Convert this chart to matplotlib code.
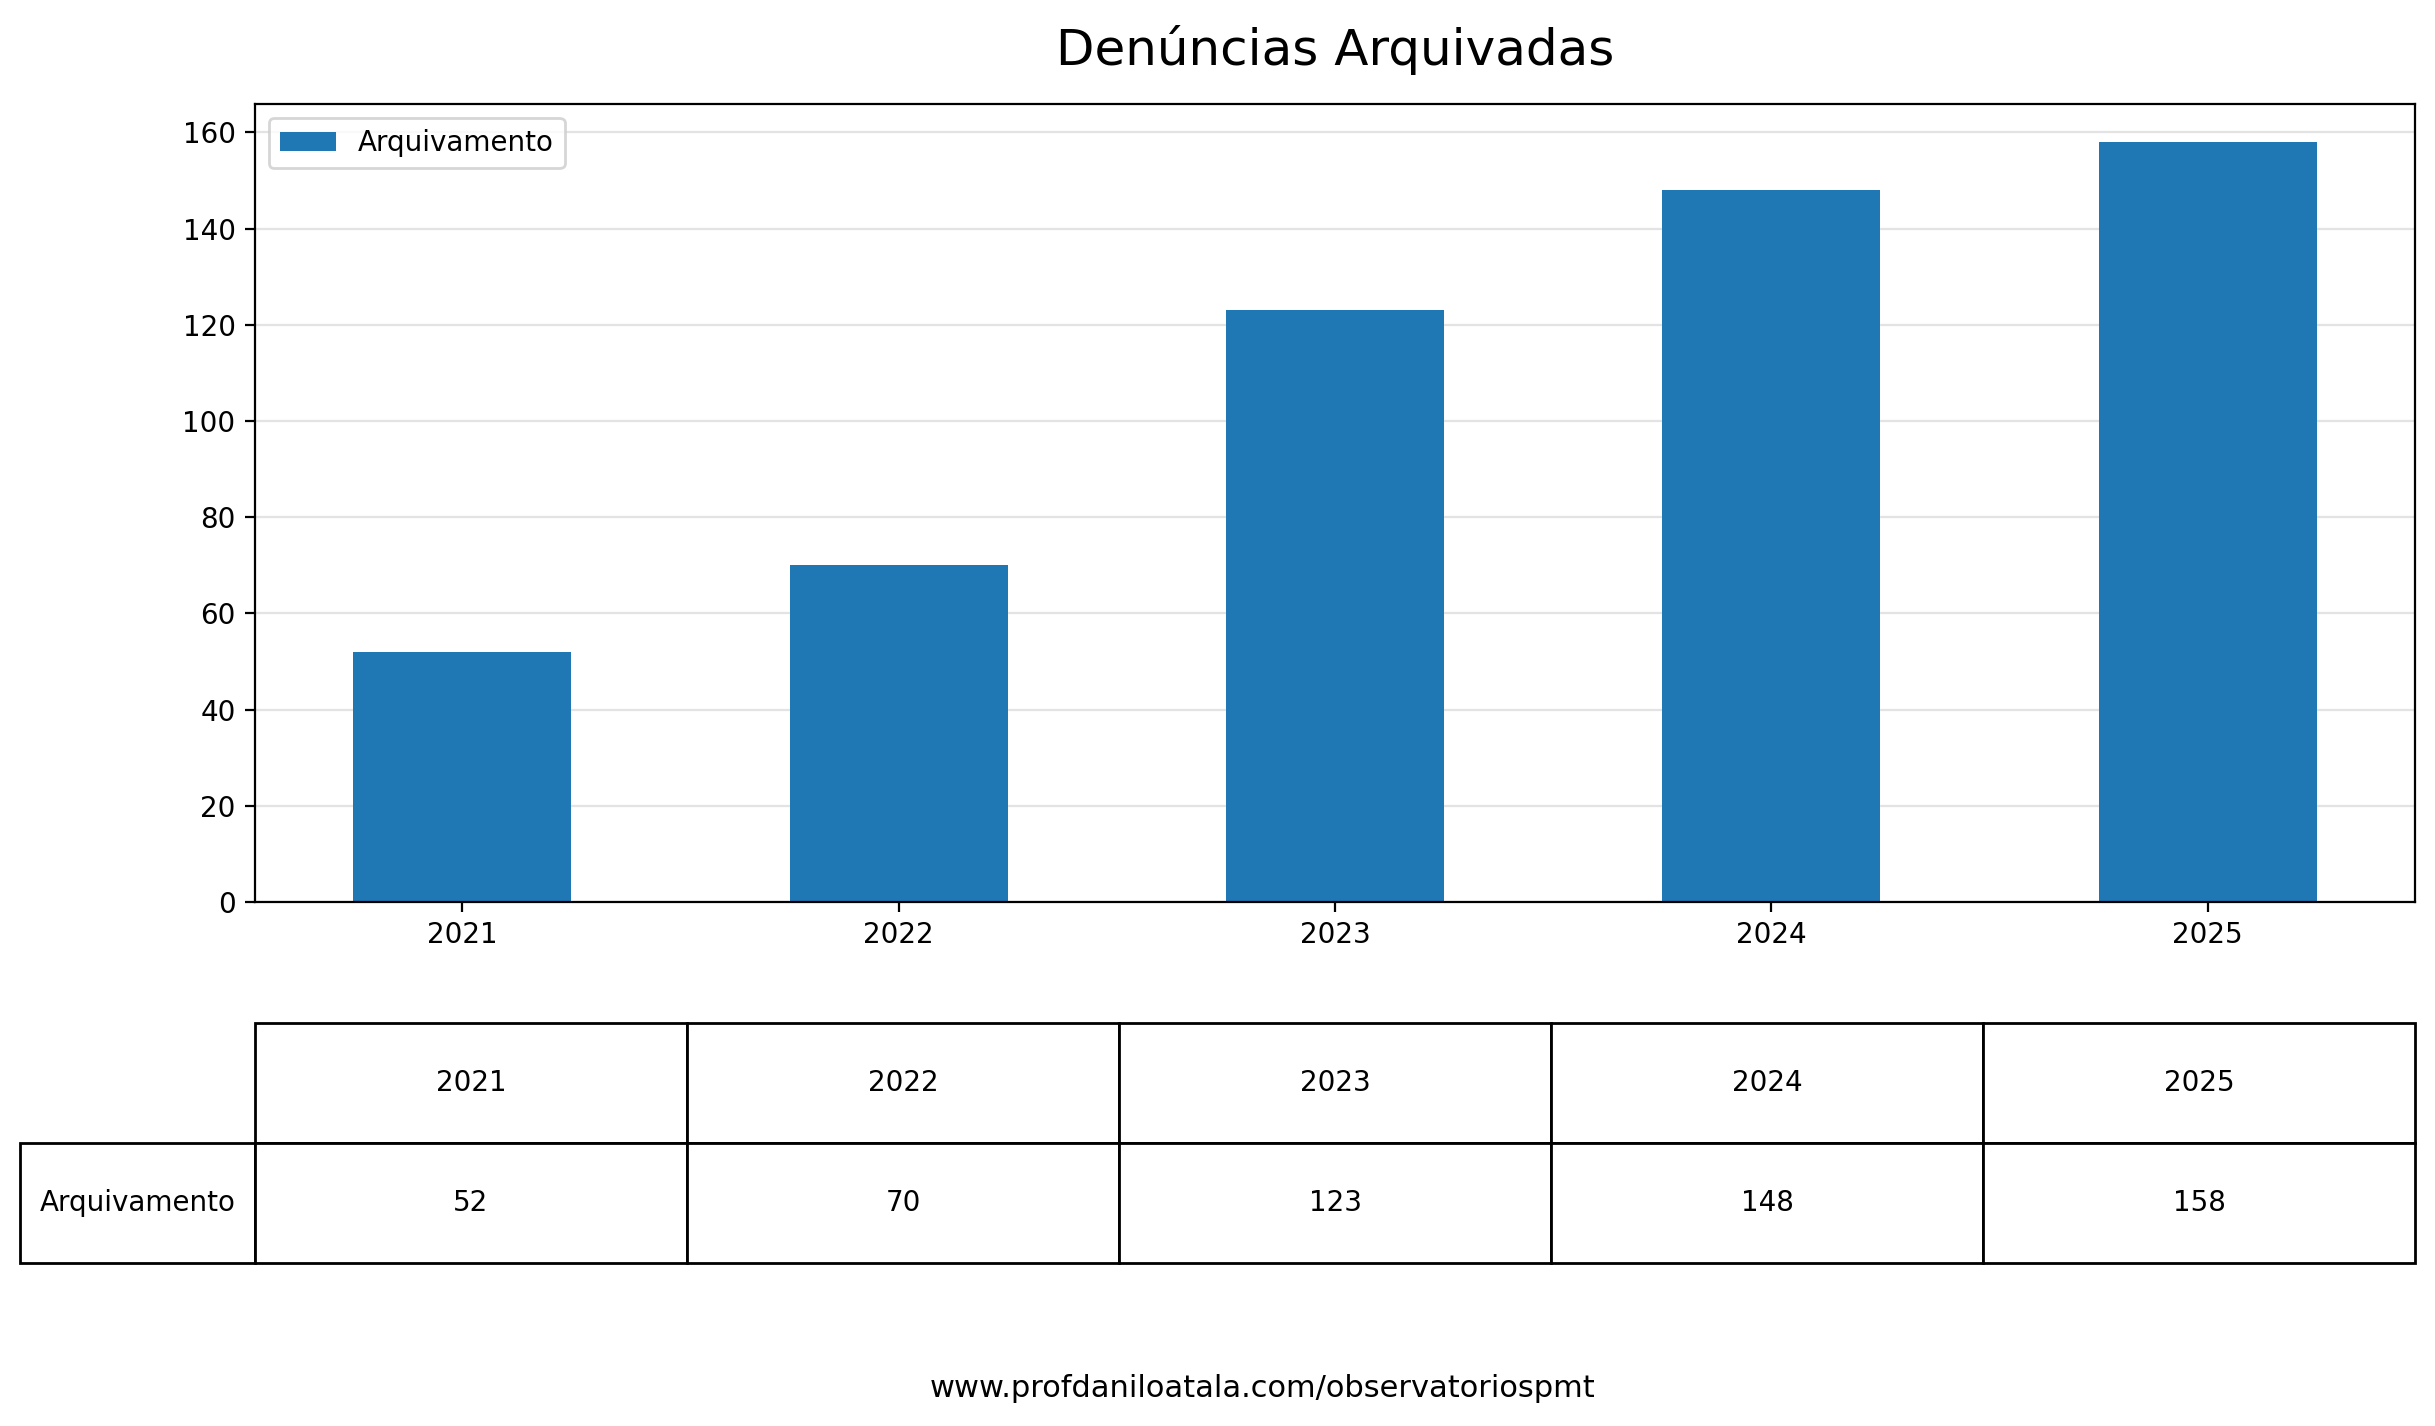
import matplotlib
matplotlib.use("Agg")
import matplotlib.pyplot as plt
from matplotlib.table import Table

anos = ["2021", "2022", "2023", "2024", "2025"]
arquivamento = [52, 70, 123, 148, 158]
serie = "Arquivamento"

fig = plt.figure(figsize=(2435 / 200, 1426 / 200), dpi=200)

# grafico de barras
ax = fig.add_axes([0.1047, 0.3675, 0.8871, 0.5596])
x = list(range(len(anos)))
ax.bar(x, arquivamento, width=0.5, color="#1f77b4", label=serie)
ax.set_xticks(x)
ax.set_xticklabels(anos)
ax.set_xlim(-0.475, len(anos) - 1 + 0.475)
ax.set_ylim(0, max(arquivamento) * 1.05)
ax.yaxis.grid(True, color="#b0b0b0", alpha=0.35)
ax.set_axisbelow(True)
ax.legend(loc="upper left")
ax.set_title("Denúncias Arquivadas", fontsize=18, pad=14)

# tabela abaixo (coluna 0 = rotulo da linha)
ax2 = fig.add_axes([0.0082, 0.1143, 0.9836, 0.1683])
ax2.axis("off")
tbl = Table(ax2, bbox=[0, 0, 1, 1])
total = 235 + 432 * len(anos)
w_lbl = 235 / total
w_col = 432 / total
tbl.add_cell(0, 0, w_lbl, 0.5, text="", loc="center").visible_edges = ""
tbl.add_cell(1, 0, w_lbl, 0.5, text=serie, loc="center")
for j, ano in enumerate(anos):
    tbl.add_cell(0, j + 1, w_col, 0.5, text=ano, loc="center")
    tbl.add_cell(1, j + 1, w_col, 0.5, text=str(arquivamento[j]), loc="center")
tbl.auto_set_font_size(False)
tbl.set_fontsize(10)
ax2.add_table(tbl)

fig.text(0.5185, 0.0266, "www.profdaniloatala.com/observatoriospmt",
         ha="center", va="center", fontsize=11)

fig.savefig("out.png", dpi=200)
